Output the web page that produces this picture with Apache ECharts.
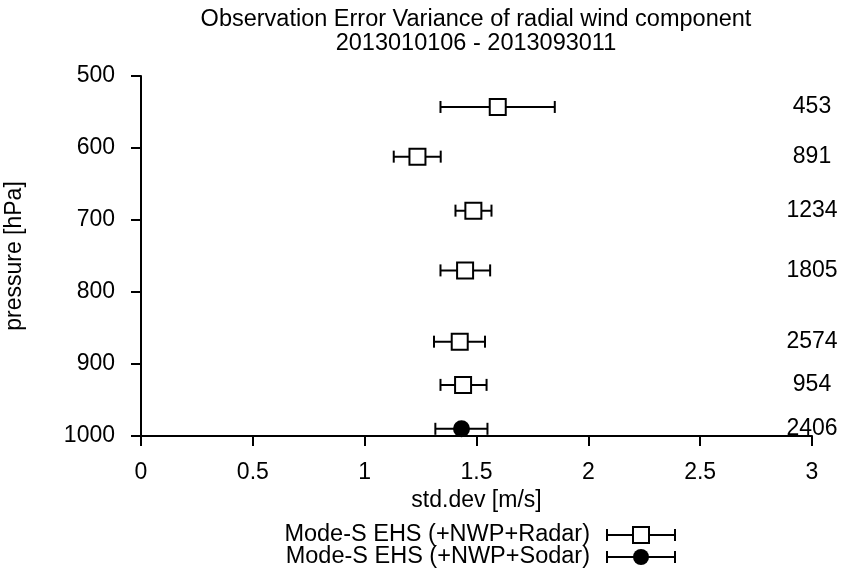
<!DOCTYPE html>
<html>
<head>
<meta charset="utf-8">
<script src="https://cdn.jsdelivr.net/npm/echarts@6/dist/echarts.min.js"></script>
<style>html,body{margin:0;padding:0;background:#fff}#chart{width:841px;height:571px}</style>
</head>
<body>
<div id="chart"></div>
<script>
// ---- data ----
const titleLines = ['Observation Error Variance of radial wind component', '2013010106 - 2013093011'];
const xTicks = [0, 0.5, 1, 1.5, 2, 2.5, 3];
const yTicks = [500, 600, 700, 800, 900, 1000];

const radarName = 'Mode-S EHS (+NWP+Radar)';
const radarPressure = [543, 612, 687, 770, 869, 929];
const radarStd = [1.595, 1.236, 1.486, 1.449, 1.425, 1.440];
const radarLow = [1.339, 1.130, 1.406, 1.339, 1.310, 1.339];
const radarHigh = [1.850, 1.340, 1.567, 1.561, 1.538, 1.545];

const sodarName = 'Mode-S EHS (+NWP+Sodar)';
const sodarPressure = [990];
const sodarStd = [1.433];
const sodarLow = [1.316];
const sodarHigh = [1.549];

const countPressure = [543, 612, 687, 770, 869, 929, 990];
const counts = [453, 891, 1234, 1805, 2574, 954, 2406];
const countX = 3;

// ---- build ----
const FONT = 'Liberation Sans';
const FS = 23;
function errData(p, lo, hi) { return p.map((v, i) => [lo[i], hi[i], v]); }
function errRender(params, api) {
  const lo = api.coord([api.value(0), api.value(2)]);
  const hi = api.coord([api.value(1), api.value(2)]);
  const cap = 6;
  const st = { stroke: '#000', lineWidth: 2 };
  return {
    type: 'group',
    children: [
      { type: 'line', shape: { x1: lo[0], y1: lo[1], x2: hi[0], y2: hi[1] }, style: st },
      { type: 'line', shape: { x1: lo[0], y1: lo[1] - cap, x2: lo[0], y2: lo[1] + cap }, style: st },
      { type: 'line', shape: { x1: hi[0], y1: hi[1] - cap, x2: hi[0], y2: hi[1] + cap }, style: st }
    ]
  };
}

const chart = echarts.init(document.getElementById('chart'), null, { renderer: 'canvas' });

// legend drawn as graphic
const legX = 607, legW = 68, legMid = 641;
function legendRow(y, name, filled) {
  const st = { stroke: '#000', lineWidth: 2 };
  const kids = [
    { type: 'text', x: 590, y: y, style: { text: name, font: '23.5px ' + FONT, fill: '#000', align: 'right', verticalAlign: 'middle' } },
    { type: 'line', shape: { x1: legX, y1: y, x2: legX + legW, y2: y }, style: st },
    { type: 'line', shape: { x1: legX, y1: y - 6, x2: legX, y2: y + 6 }, style: st },
    { type: 'line', shape: { x1: legX + legW, y1: y - 6, x2: legX + legW, y2: y + 6 }, style: st }
  ];
  if (filled) kids.push({ type: 'circle', shape: { cx: legMid, cy: y, r: 8 }, style: { fill: '#000' } });
  else kids.push({ type: 'rect', shape: { x: legMid - 8, y: y - 8, width: 16, height: 16 }, style: { fill: '#fff', stroke: '#000', lineWidth: 2 } });
  return { type: 'group', children: kids };
}

chart.setOption({
  animation: false,
  backgroundColor: '#fff',
  textStyle: { fontFamily: FONT },
  title: {
    text: titleLines.join('\n'),
    left: 471,
    textAlign: 'center',
    top: 3,
    textStyle: { fontSize: 23.5, fontWeight: 'normal', color: '#000', lineHeight: 24, fontFamily: FONT }
  },
  grid: { left: 141, right: 29, top: 76, bottom: 135, containLabel: false, outerBoundsMode: 'none' },
  xAxis: {
    type: 'value', min: 0, max: 3, interval: 0.5,
    name: 'std.dev [m/s]', nameLocation: 'middle', nameGap: 42,
    nameTextStyle: { fontSize: FS, color: '#000', fontFamily: FONT },
    axisLine: { show: true, lineStyle: { color: '#000', width: 2 } },
    axisTick: { show: true, length: 10, lineStyle: { color: '#000', width: 2 } },
    axisLabel: { fontSize: FS, color: '#000', margin: 25, formatter: v => String(v), fontFamily: FONT },
    splitLine: { show: false }
  },
  yAxis: {
    type: 'value', min: 500, max: 1000, interval: 100, inverse: true,
    name: 'pressure [hPa]', nameLocation: 'middle', nameGap: 115, nameRotate: 90,
    nameTextStyle: { fontSize: FS, color: '#000', fontFamily: FONT },
    axisLine: { show: true, onZero: false, lineStyle: { color: '#000', width: 2 } },
    axisTick: { show: true, length: 10, lineStyle: { color: '#000', width: 2 } },
    axisLabel: { fontSize: FS, color: '#000', margin: 26, padding: [4, 0, 0, 0], formatter: v => String(v), fontFamily: FONT },
    splitLine: { show: false }
  },
  graphic: [legendRow(535, radarName, false), legendRow(557, sodarName, true)],
  series: [
    { type: 'custom', name: radarName + ' err', renderItem: errRender, data: errData(radarPressure, radarLow, radarHigh), encode: { x: [0, 1], y: 2 }, z: 2, clip: false },
    { type: 'custom', name: sodarName + ' err', renderItem: errRender, data: errData(sodarPressure, sodarLow, sodarHigh), encode: { x: [0, 1], y: 2 }, z: 2, clip: false },
    { type: 'scatter', name: radarName, data: radarStd.map((v, i) => [v, radarPressure[i]]), symbol: 'rect', symbolSize: 16,
      itemStyle: { color: '#fff', borderColor: '#000', borderWidth: 2, opacity: 1 }, z: 3, clip: false },
    { type: 'scatter', name: sodarName, data: sodarStd.map((v, i) => [v, sodarPressure[i]]), symbol: 'circle', symbolSize: 17,
      itemStyle: { color: '#000', opacity: 1 }, z: 3, clip: false },
    { type: 'scatter', name: 'counts', data: counts.map((c, i) => ({ value: [countX, countPressure[i]], n: c })), symbolSize: 0, clip: false,
      itemStyle: { opacity: 1, color: '#000' },
      label: { show: true, position: 'inside', padding: [3, 0, 0, 0], formatter: p => String(p.data.n), fontSize: FS, color: '#000', opacity: 1, fontFamily: FONT }, z: 4 }
  ]
});
</script>
</body>
</html>
